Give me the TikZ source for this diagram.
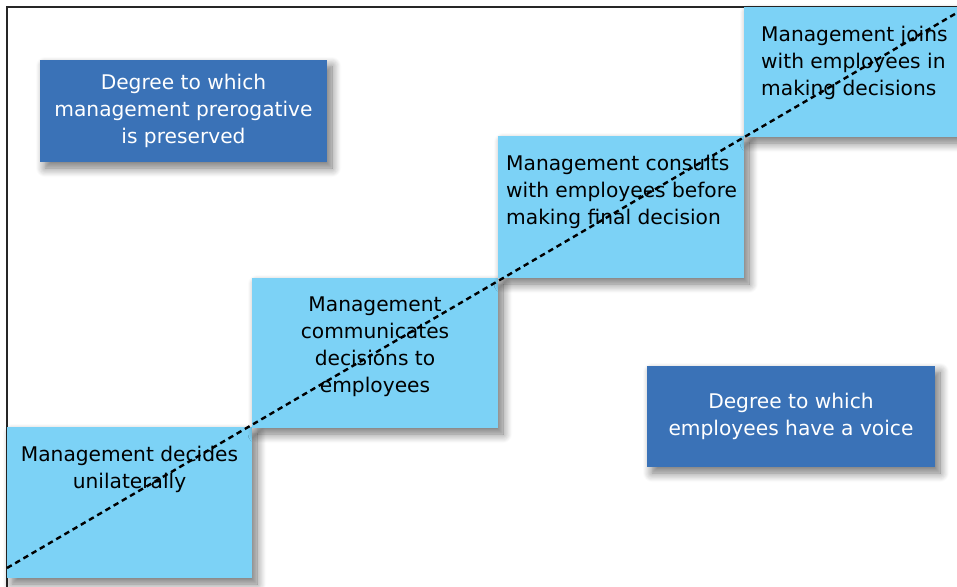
\documentclass[tikz,border=0pt]{standalone}
\usepackage{fontspec}
\setmainfont{DejaVu Sans}
\usepackage{tikz}
\usetikzlibrary{shadows.blur}
\definecolor{stepblue}{RGB}{124,210,246}
\definecolor{axisblue}{RGB}{58,114,183}

\begin{document}
\begin{tikzpicture}[
  x=1pt, y=-1pt,
  font=\fontsize{20.2}{27}\selectfont,
  sh/.style={blur shadow={shadow xshift=5pt, shadow yshift=-6pt, shadow blur radius=9pt, shadow blur steps=10, shadow opacity=55}},
  stepbox/.style={fill=stepblue, sh, inner sep=0pt, outer sep=0pt},
  axisbox/.style={fill=axisblue, sh, text=white, align=center, inner sep=0pt, outer sep=0pt},
  lbl/.style={inner sep=0pt, anchor=north},
  diag/.style={line width=2.4pt, dash pattern=on 5.5pt off 4pt}
]
\useasboundingbox (0,0) rectangle (957,586);
\clip (0,0) rectangle (957,586);

% Frame (only top and left edges are in view)
\draw[line width=1.2pt, black!85] (7,600) -- (7,7) -- (970,7);

% Staircase of steps
\node[stepbox, minimum width=245, minimum height=151] (decide) at (129.5,502.5) {};
\node[stepbox, minimum width=246, minimum height=150] (communicate) at (375,353) {};
\node[stepbox, minimum width=246, minimum height=142] (consult) at (621,207) {};
\node[stepbox, minimum width=226, minimum height=130] (join) at (857,72) {};

\node[lbl, align=center] (decidetxt) at ([yshift=-18.5pt]decide.north)
  {Management decides\\unilaterally};
\node[lbl, align=center] (communicatetxt) at ([yshift=-19pt]communicate.north)
  {Management\\communicates\\decisions to\\employees};
\node[lbl, align=left, anchor=north west] (consulttxt) at (506,155)
  {Management consults\\with employees before\\making final decision};
\node[lbl, align=left, anchor=north west] (jointxt) at (761,26)
  {Management joins\\with employees in\\making decisions};

% Axis labels
\node[axisbox, minimum width=287, minimum height=102] (prerog) at (183.5,111)
  {Degree to which\\management prerogative\\is preserved};
\node[axisbox, minimum width=288, minimum height=101] (voice) at (791,416.5)
  {Degree to which\\employees have a voice};

% Diagonal divide
\coordinate (lo) at (7,568);
\coordinate (hi) at (960,11);
\draw[diag] (lo) -- (hi);
\end{tikzpicture}
\end{document}
